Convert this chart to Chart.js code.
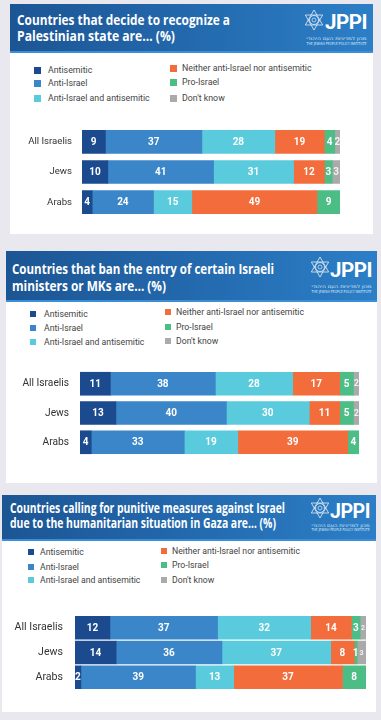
<!DOCTYPE html>
<html><head><meta charset="utf-8">
<script src="https://cdn.jsdelivr.net/npm/chart.js@4.4.1/dist/chart.umd.min.js"></script>
<style>
html,body{margin:0;padding:0;}
body{width:381px;height:720px;background:#e9e8ee;position:relative;overflow:hidden;font-family:Roboto,sans-serif;}
.abs{position:absolute;white-space:nowrap;}
.panel{position:absolute;background:#fff;}
.hdr{position:absolute;background:linear-gradient(90deg,#1c5594 0%,#2369ad 50%,#2c7fc7 100%);box-shadow:inset 0 -2px 0 #3a8fd8;}
.ttl{color:#fff;font-family:"Open Sans",sans-serif;font-weight:700;transform-origin:0 50%;}
.jppi{color:#fff;font-family:Roboto,sans-serif;font-weight:700;transform-origin:0 50%;letter-spacing:-0.5px;}
.tiny{color:#dce8f6;font-family:"DejaVu Sans",sans-serif;transform-origin:100% 50%;}
.lg{color:#444;font-family:Roboto,sans-serif;}
</style></head>
<body>
<script>
// ---------- data ----------
const categories = ['All Israelis', 'Jews', 'Arabs'];
const seriesNames = ['Antisemitic', 'Anti-Israel', 'Anti-Israel and antisemitic',
  'Neither anti-Israel nor antisemitic', 'Pro-Israel', "Don't know"];
const seriesColors = ['#1b4a8f', '#3a86c8', '#59cbdc', '#f36c3b', '#4dbd86', '#aaaaaa'];

const title1 = ['Countries that decide to recognize a', 'Palestinian state are… (%)'];
const c1Antisemitic = [9, 10, 4];
const c1AntiIsrael = [37, 41, 24];
const c1Both = [28, 31, 15];
const c1Neither = [19, 12, 49];
const c1ProIsrael = [4, 3, 9];
const c1DontKnow = [2, 3, 0];

const title2 = ['Countries that ban the entry of certain Israeli', 'ministers or MKs are… (%)'];
const c2Antisemitic = [11, 13, 4];
const c2AntiIsrael = [38, 40, 33];
const c2Both = [28, 30, 19];
const c2Neither = [17, 11, 39];
const c2ProIsrael = [5, 5, 4];
const c2DontKnow = [2, 2, 0];

const title3 = ['Countries calling for punitive measures against Israel', 'due to the humanitarian situation in Gaza are… (%)'];
const c3Antisemitic = [12, 14, 2];
const c3AntiIsrael = [37, 36, 39];
const c3Both = [32, 37, 13];
const c3Neither = [14, 8, 37];
const c3ProIsrael = [3, 1, 8];
const c3DontKnow = [2, 3, 0];

const hebrewLine = 'מכון למדיניות העם היהודי';
const englishLine = 'THE JEWISH PEOPLE POLICY INSTITUTE';

// ---------- layout ----------
const panels = [
  { title: title1, series: [c1Antisemitic, c1AntiIsrael, c1Both, c1Neither, c1ProIsrael, c1DontKnow],
    bg: [10, 4, 363, 230], hdrH: 49,
    tl: [[17, 20, 213], [17, 36, 158]], tfs: 14.5,
    star: [314, 20, 10], jppi: [325, 22.5, 42], tiny: [367, 39, 44, 60],
    lg: { sq: 7, lx: 34, ltx: 48, lrows: [70, 83, 98], rx: 170, rtx: 182, rrows: [68, 82, 98], fs: 8.8 },
    ch: { x: 10, y: 111, w: 330, h: 122, axisW: 72, fs: 9.6, pad: 10, lab: 10, gray: 10 } },
  { title: title2, series: [c2Antisemitic, c2AntiIsrael, c2Both, c2Neither, c2ProIsrael, c2DontKnow],
    bg: [6, 251, 371, 232], hdrH: 51,
    tl: [[12, 269, 262], [12, 286, 154]], tfs: 14.5,
    star: [319.5, 267, 10], jppi: [330, 270.5, 42], tiny: [372, 287, 292, 60],
    lg: { sq: 6, lx: 30, ltx: 44, lrows: [314, 328, 342], rx: 165, rtx: 176, rrows: [312, 327, 341], fs: 8.7 },
    ch: { x: 6, y: 352, w: 353, h: 122, axisW: 74, fs: 10.2, pad: 11, lab: 10, gray: 9 } },
  { title: title3, series: [c3Antisemitic, c3AntiIsrael, c3Both, c3Neither, c3ProIsrael, c3DontKnow],
    bg: [2, 495, 374, 217], hdrH: 46,
    tl: [[10, 509, 275], [10, 524, 266]], tfs: 13.5,
    star: [320, 508, 10], jppi: [330, 511.5, 40], tiny: [370, 526, 530, 58],
    lg: { sq: 6, lx: 28, ltx: 40, lrows: [552, 567, 580], rx: 161, rtx: 172, rrows: [551, 565, 580], fs: 8.7 },
    ch: { x: 2, y: 597, w: 364, h: 111, axisW: 73, fs: 10.6, pad: 12, lab: 10, gray: 7 } }
];

function el(tag, cls, css, parent) {
  const e = document.createElement(tag);
  if (cls) e.className = cls;
  Object.assign(e.style, css || {});
  (parent || document.body).appendChild(e);
  return e;
}
function text(str, cls, x, yc, fs, targetW, alignRight) {
  const e = el('div', 'abs ' + cls, { fontSize: fs + 'px', lineHeight: fs + 'px', top: (yc - fs / 2) + 'px' });
  e.textContent = str;
  if (alignRight) e.style.right = (381 - x) + 'px'; else e.style.left = x + 'px';
  if (targetW) {
    const w = e.getBoundingClientRect().width;
    e.style.transform = 'scaleX(' + (targetW / w) + ')';
  }
  return e;
}
function starSvg(cx, cy, r) {
  const ns = 'http://www.w3.org/2000/svg';
  const svg = document.createElementNS(ns, 'svg');
  svg.setAttribute('width', 2 * r + 4); svg.setAttribute('height', 2 * r + 4);
  svg.style.position = 'absolute';
  svg.style.left = (cx - r - 2) + 'px'; svg.style.top = (cy - r - 2) + 'px';
  const c = r + 2;
  const tri = (rot) => {
    const pts = [0, 1, 2].map(k => {
      const a = rot + k * 2 * Math.PI / 3;
      return (c + r * Math.sin(a)).toFixed(2) + ',' + (c - r * Math.cos(a)).toFixed(2);
    }).join(' ');
    const p = document.createElementNS(ns, 'polygon');
    p.setAttribute('points', pts);
    p.setAttribute('fill', 'none'); p.setAttribute('stroke', '#e6eef8');
    p.setAttribute('stroke-width', '0.9'); p.setAttribute('opacity', '0.9');
    svg.appendChild(p);
  };
  tri(0); tri(Math.PI);
  const circ = document.createElementNS(ns, 'circle');
  circ.setAttribute('cx', c); circ.setAttribute('cy', c); circ.setAttribute('r', r * 0.45);
  circ.setAttribute('fill', 'none'); circ.setAttribute('stroke', '#e6eef8'); circ.setAttribute('stroke-width', '0.8');
  svg.appendChild(circ);
  const circ2 = document.createElementNS(ns, 'circle');
  circ2.setAttribute('cx', c); circ2.setAttribute('cy', c); circ2.setAttribute('r', r * 0.2);
  circ2.setAttribute('fill', 'none'); circ2.setAttribute('stroke', '#e6eef8'); circ2.setAttribute('stroke-width', '0.7');
  svg.appendChild(circ2);
  document.body.appendChild(svg);
}

const segLabels = {
  id: 'segLabels',
  afterDatasetsDraw(chart, args, opts) {
    const ctx = chart.ctx;
    chart.data.datasets.forEach((ds, di) => {
      const meta = chart.getDatasetMeta(di);
      meta.data.forEach((bar, i) => {
        const v = ds.raw[i];
        if (!v) return;
        const p = bar.getProps(['x', 'y', 'base'], true);
        const fs = di === 5 ? opts.gray : opts.size;
        ctx.save();
        ctx.font = 'bold ' + fs + 'px Roboto, sans-serif';
        ctx.fillStyle = di === 5 ? '#f2f2f2' : '#ffffff';
        ctx.textAlign = 'center';
        ctx.textBaseline = 'middle';
        ctx.fillText(String(v), (p.x + p.base) / 2, p.y + 0.5);
        ctx.restore();
      });
    });
  }
};

panels.forEach(P => {
  const [bx, by, bw, bh] = P.bg;
  el('div', 'panel', { left: bx + 'px', top: by + 'px', width: bw + 'px', height: bh + 'px' });
  el('div', 'hdr', { left: bx + 'px', top: by + 'px', width: bw + 'px', height: P.hdrH + 'px' });
  P.title.forEach((t, k) => text(t, 'ttl', P.tl[k][0], P.tl[k][1], P.tfs, P.tl[k][2]));
  starSvg(P.star[0], P.star[1], P.star[2]);
  text('JPPI', 'jppi', P.jppi[0], P.jppi[1], 21, P.jppi[2]);
  text(hebrewLine, 'tiny', P.tiny[0], P.tiny[1], 4.5, P.tiny[3], true);
  text(englishLine, 'tiny', P.tiny[0], P.tiny[2], 4, P.tiny[3], true);
  const L = P.lg;
  seriesNames.forEach((name, s) => {
    const right = s >= 3;
    const row = right ? L.rrows[s - 3] : L.lrows[s];
    const sx = right ? L.rx : L.lx, tx = right ? L.rtx : L.ltx;
    el('div', 'abs', { left: sx + 'px', top: (row - L.sq / 2) + 'px', width: L.sq + 'px', height: L.sq + 'px', background: seriesColors[s] });
    text(name, 'lg', tx, row, L.fs);
  });
  // chart
  const C = P.ch;
  const cv = el('canvas', '', { position: 'absolute', left: C.x + 'px', top: C.y + 'px' });
  cv.width = C.w; cv.height = C.h;
  const totals = categories.map((_, i) => P.series.reduce((a, s) => a + s[i], 0));
  new Chart(cv, {
    type: 'bar',
    data: {
      labels: categories,
      datasets: P.series.map((vals, s) => ({
        label: seriesNames[s],
        raw: vals,
        data: vals.map((v, i) => v / totals[i] * 100),
        backgroundColor: seriesColors[s],
        borderWidth: 0,
        barThickness: 23
      }))
    },
    options: {
      indexAxis: 'y', responsive: false, animation: false, devicePixelRatio: 1,
      layout: { padding: 0 },
      plugins: { legend: { display: false }, tooltip: { enabled: false },
        segLabels: { size: C.lab, gray: C.gray } },
      scales: {
        x: { stacked: true, display: false, min: 0, max: 100 },
        y: { stacked: true, grid: { display: false, drawTicks: false }, border: { display: false },
          ticks: { color: '#333', font: { family: 'Roboto', size: C.fs }, padding: C.pad },
          afterFit(sc) { sc.width = C.axisW; } }
      }
    },
    plugins: [segLabels]
  });
});
</script>
</body></html>
